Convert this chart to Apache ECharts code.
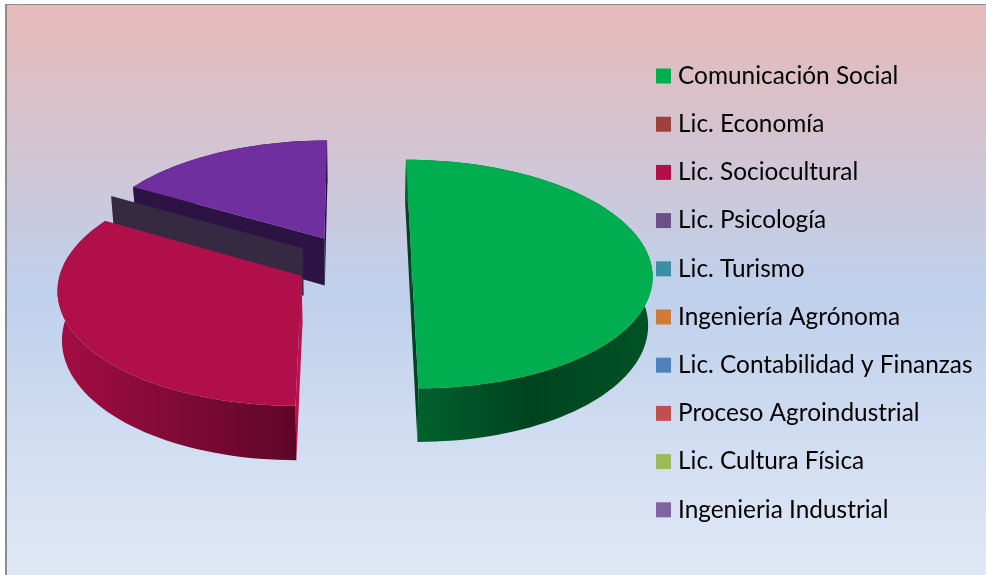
<!DOCTYPE html>
<html>
<head>
<meta charset="utf-8">
<style>
  html, body { margin: 0; padding: 0; background: #fff; }
  #main { width: 986px; height: 575px; }
</style>
<script src="https://cdn.jsdelivr.net/npm/echarts@6/dist/echarts.min.js"></script>
</head>
<body>
<div id="main"></div>
<script>
let categories = [
  'Comunicación Social', 'Lic. Economía', 'Lic. Sociocultural', 'Lic. Psicología',
  'Lic. Turismo', 'Ingeniería Agrónoma', 'Lic. Contabilidad y Finanzas',
  'Proceso Agroindustrial', 'Lic. Cultura Física', 'Ingenieria Industrial'
];
let values = [3, 0, 2, 0, 0, 0, 0, 0, 0, 1];
let legendColors = [
  '#00b050', '#a0403d', '#b30f4b', '#6a5087', '#3c8da6',
  '#cd7d38', '#4f81bd', '#c0504d', '#9bbb59', '#8064a2'
];
let topColors = ['#00ae4f', null, '#b10f49', null, null, null, null, null, null, '#6f2f9e'];
let cutColors = ['#00431f', null, '#b5144c', '#352a41', null, null, null, null, null, '#2c1344'];
// left to right across each slice's outer wall
let wallStops = [
  ['#00652f', '#00431f', '#005326'], null, ['#a30d44', '#5e0628'], null,
  null, null, null, null, null, ['#2c1344', '#2c1344']
];
// zero value slices are not drawn, except this one which shows as a flat band in the original
let bandCategories = ['Lic. Psicología'];

// fake 3d view of the pie
let view = { cx: 353, cy: 262, rx: 239, ry: 113, k: 0.105, height: 48, explode: 0.245, floor: 0.985 };

function project(x, z) {
  let w = 1 / (1 - view.k * z);
  return [view.cx + view.rx * x * w, view.cy + view.ry * z * w, w];
}

// same point on the bottom of the pie, a bit narrower since it is further away
function drop(p) {
  return [view.cx + (p[0] - view.cx) * view.floor, p[1] + view.height * p[2]];
}

let total = values.reduce(function (a, b) { return a + b; }, 0);

function startAngle(index) {
  let sum = 0;
  for (let i = 0; i < index; i++) sum += values[i];
  return -90 + sum / total * 360;
}

function renderSlice(index) {
  return function (params, api) {
    let value = api.value(0);
    let isBand = bandCategories.indexOf(categories[index]) >= 0;
    if (!value && !isBand) return;

    let a0 = startAngle(index);
    let a1 = a0 + value / total * 360;
    let mid = (a0 + a1) / 2 * Math.PI / 180;
    let ox = Math.cos(mid) * view.explode;
    let oz = Math.sin(mid) * view.explode;

    let apex = project(ox, oz);
    let rim = [];
    for (let a = a0; a <= a1 + 0.001; a += 2) {
      let t = a * Math.PI / 180;
      rim.push(project(ox + Math.cos(t), oz + Math.sin(t)));
    }

    let first = rim[0];
    let last = rim[rim.length - 1];
    let children = [];
    function addFace(points, fill) {
      children.push({
        type: 'polygon',
        shape: { points: points.map(function (p) { return [p[0], p[1]]; }) },
        style: { fill: fill },
        silent: true
      });
    }

    addFace([apex, first, drop(first), drop(apex)], cutColors[index]);
    if (value) {
      addFace([apex, last, drop(last), drop(apex)], cutColors[index]);
      let stops = wallStops[index];
      addFace(rim.concat(rim.slice().reverse().map(drop)), {
        type: 'linear', x: 0, y: 0, x2: 1, y2: 0,
        colorStops: stops.map(function (c, i) {
          return { offset: i / (stops.length - 1), color: c };
        })
      });
      addFace([apex].concat(rim), topColors[index]);
    }
    return { type: 'group', children: children };
  };
}

let myDom = document.getElementById('main');
let myChart = echarts.init(myDom, null, { renderer: 'canvas' });

let series = categories.map(function (name, i) {
  let a0 = startAngle(i);
  let a1 = a0 + values[i] / total * 360;
  return {
    type: 'custom',
    name: name,
    coordinateSystem: 'none',
    renderItem: renderSlice(i),
    data: [[values[i]]],
    itemStyle: { color: legendColors[i] },
    z: 10 + Math.sin((a0 + a1) / 2 * Math.PI / 180) * 5,
    animation: false,
    silent: true
  };
});

let option = {
  animation: false,
  backgroundColor: '#ffffff',
  graphic: [
    { type: 'rect', z: -2, silent: true, shape: { x: 5, y: 4, width: 981, height: 571 }, style: { fill: '#8c8c8c' } },
    {
      type: 'rect', z: -1, silent: true,
      shape: { x: 7, y: 5, width: 979, height: 570 },
      style: {
        fill: {
          type: 'linear', x: 0, y: 0, x2: 0, y2: 1,
          colorStops: [
            { offset: 0, color: '#e6b9b8' },
            { offset: 0.5, color: '#bfd0ec' },
            { offset: 1, color: '#e0e8f5' }
          ]
        }
      }
    }
  ],
  legend: {
    orient: 'vertical',
    left: 651,
    top: 58,
    data: categories,
    icon: 'rect',
    itemWidth: 15,
    itemHeight: 15,
    itemGap: 22.2,
    selectedMode: false,
    textStyle: {
      fontFamily: 'Lato',
      fontSize: 24.4,
      color: '#000000',
      padding: [0, 0, 0, 2],
      lineHeight: 26
    }
  },
  series: series
};

myChart.setOption(option);
</script>
</body>
</html>
